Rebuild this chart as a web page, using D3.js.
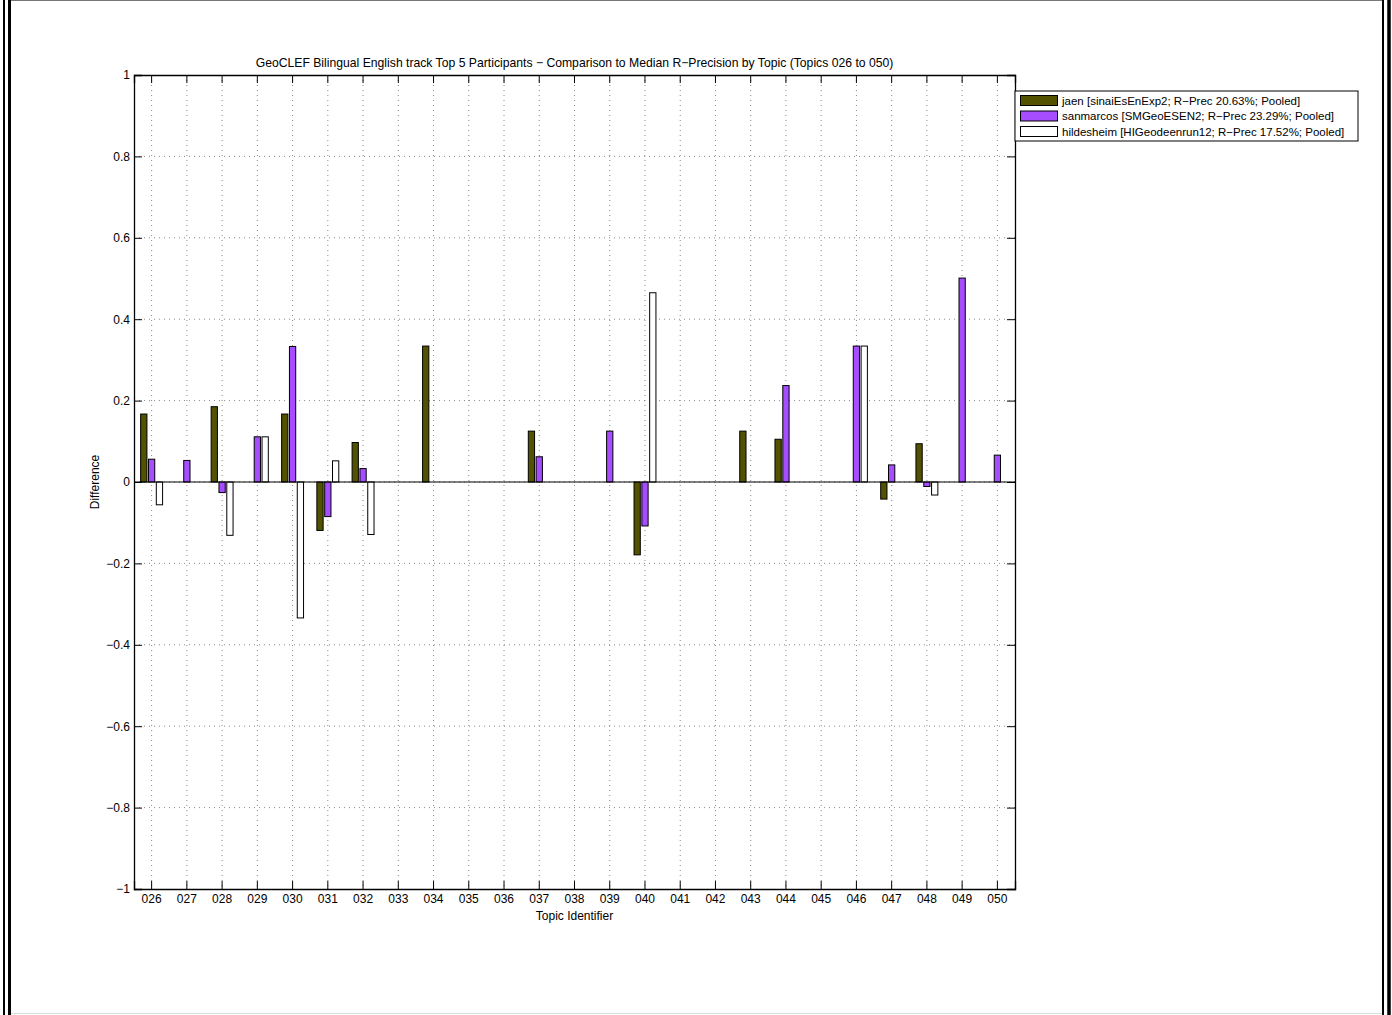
<!DOCTYPE html>
<html>
<head>
<meta charset="utf-8">
<script src="https://cdn.jsdelivr.net/npm/d3@7"></script>
<style>
  body { margin: 0; background: #fff; }
  svg { display: block; font-family: "Liberation Sans", Arial, sans-serif; }
</style>
</head>
<body>
<div id="chart"></div>
<script>
// Topic identifiers on the x axis
const topics = ["026","027","028","029","030","031","032","033","034","035","036","037","038",
                "039","040","041","042","043","044","045","046","047","048","049","050"];

// Difference to the median R-Precision, one value per topic
const jaen = [0.167, 0, 0.185, 0, 0.167, -0.119, 0.097, 0, 0.334, 0, 0, 0.125, 0,
              0, -0.179, 0, 0, 0.125, 0.105, 0, 0, -0.042, 0.094, 0, 0];
const sanmarcos = [0.056, 0.053, -0.026, 0.111, 0.333, -0.085, 0.033, 0, 0, 0, 0, 0.062, 0,
                   0.125, -0.108, 0, 0, 0, 0.237, 0, 0.334, 0.042, -0.011, 0.501, 0.066];
const hildesheim = [-0.056, 0, -0.131, 0.111, -0.334, 0.052, -0.129, 0, 0, 0, 0, 0, 0,
                    0, 0.465, 0, 0, 0, 0, 0, 0.334, 0, -0.032, 0, 0];

const seriesNames = [
    "jaen [sinaiEsEnExp2; R\u2212Prec 20.63%; Pooled]",
    "sanmarcos [SMGeoESEN2; R\u2212Prec 23.29%; Pooled]",
    "hildesheim [HIGeodeenrun12; R\u2212Prec 17.52%; Pooled]"
];
const seriesColors = ["#525200", "#a64dff", "#ffffff"];
const yTicks = [-1, -0.8, -0.6, -0.4, -0.2, 0, 0.2, 0.4, 0.6, 0.8, 1];

const W = 1392, H = 1015;
const margin = { top: 75, left: 134 };
const width = 881, height = 814;
const font = "Liberation Sans, Arial, sans-serif";

const svg = d3.select("#chart").append("svg")
    .attr("width", W).attr("height", H);

// Figure border (double lines at the sides)
svg.append("line").attr("x1", 10).attr("x2", 1383).attr("y1", 0.5).attr("y2", 0.5)
    .attr("stroke", "#777").attr("stroke-width", 1);
svg.append("line").attr("x1", 10).attr("x2", 1383).attr("y1", 1013.5).attr("y2", 1013.5)
    .attr("stroke", "#ddd").attr("stroke-width", 1);
[[4, 2], [9.5, 3], [1383, 2], [1389, 3.5]].forEach(([x, w]) => {
    svg.append("rect").attr("x", x - w / 2).attr("y", 0).attr("width", w).attr("height", H)
        .attr("fill", "#000");
});

const g = svg.append("g").attr("transform", `translate(${margin.left},${margin.top})`);

const x = d3.scaleBand().domain(topics).range([0, width]).padding(0);
const y = d3.scaleLinear().domain([-1, 1]).range([height, 0]);
const bw = x.bandwidth();
const center = t => x(t) + bw / 2;

// Grid
g.append("g").selectAll("line").data(topics).join("line")
    .attr("x1", d => center(d)).attr("x2", d => center(d))
    .attr("y1", 0).attr("y2", height)
    .attr("stroke", "#888").attr("stroke-dasharray", "1,4");
g.append("g").selectAll("line").data(yTicks.filter(d => d > -1 && d < 1)).join("line")
    .attr("x1", 0).attr("x2", width)
    .attr("y1", d => y(d)).attr("y2", d => y(d))
    .attr("stroke", "#888").attr("stroke-dasharray", "1,4");

// Bars
const groups = [jaen, sanmarcos, hildesheim];
const offsets = [-0.222, 0, 0.222];
const barW = bw * 0.178;
groups.forEach((vals, i) => {
    g.append("g").selectAll("rect").data(vals).join("rect")
        .attr("x", (d, j) => center(topics[j]) + offsets[i] * bw - barW / 2)
        .attr("y", d => y(Math.max(0, d)))
        .attr("width", barW)
        .attr("height", d => Math.abs(y(d) - y(0)))
        .attr("fill", seriesColors[i])
        .attr("stroke", d => d === 0 ? seriesColors[i === 2 ? 0 : i] : "#000")
        .attr("stroke-opacity", d => d === 0 ? 0.5 : 1)
        .attr("stroke-width", 1);
});

// Zero baseline
g.append("line").attr("x1", 0).attr("x2", width).attr("y1", y(0)).attr("y2", y(0))
    .attr("stroke", "#000");

// Axes (ticks inside, on all four sides)
const axB = g.append("g").attr("transform", `translate(0,${height})`)
    .call(d3.axisBottom(x).tickSize(-8).tickPadding(5));
const axT = g.append("g")
    .call(d3.axisTop(x).tickSize(-8).tickFormat(""));
const axL = g.append("g")
    .call(d3.axisLeft(y).tickValues(yTicks).tickSize(-8).tickPadding(4)
        .tickFormat(d => d3.format("")(d)));
const axR = g.append("g").attr("transform", `translate(${width},0)`)
    .call(d3.axisRight(y).tickValues(yTicks).tickSize(-8).tickFormat(""));
[axB, axT, axL, axR].forEach(a => {
    a.attr("font-size", null).attr("font-family", null);
    a.select(".domain").attr("stroke", "#000").attr("stroke-width", 1.3);
    a.selectAll(".tick line").attr("stroke", "#000");
    a.selectAll("text").style("font-size", "12px").attr("fill", "#000")
        .style("font-family", font);
});

// Title and axis labels
svg.append("text").attr("x", margin.left + width / 2).attr("y", 67)
    .attr("text-anchor", "middle").style("font-size", "12.2px")
    .text("GeoCLEF Bilingual English track Top 5 Participants \u2212 Comparison to Median R\u2212Precision by Topic (Topics 026 to 050)");
svg.append("text").attr("x", margin.left + width / 2).attr("y", 920)
    .attr("text-anchor", "middle").style("font-size", "12px")
    .text("Topic Identifier");
svg.append("text").attr("transform", `translate(99,${margin.top + height / 2}) rotate(-90)`)
    .attr("text-anchor", "middle").style("font-size", "12px")
    .text("Difference");

// Legend
const lg = svg.append("g").attr("transform", "translate(1015,91)");
lg.append("rect").attr("x", 0).attr("y", 0).attr("width", 343).attr("height", 50)
    .attr("fill", "#fff").attr("stroke", "#000");
seriesNames.forEach((name, i) => {
    lg.append("rect").attr("x", 5.5).attr("y", 4.5 + i * 15.5).attr("width", 37).attr("height", 10)
        .attr("fill", seriesColors[i]).attr("stroke", "#000");
    lg.append("text").attr("x", 47).attr("y", 13.5 + i * 15.5)
        .style("font-size", "11.5px").text(name);
});
</script>
</body>
</html>
